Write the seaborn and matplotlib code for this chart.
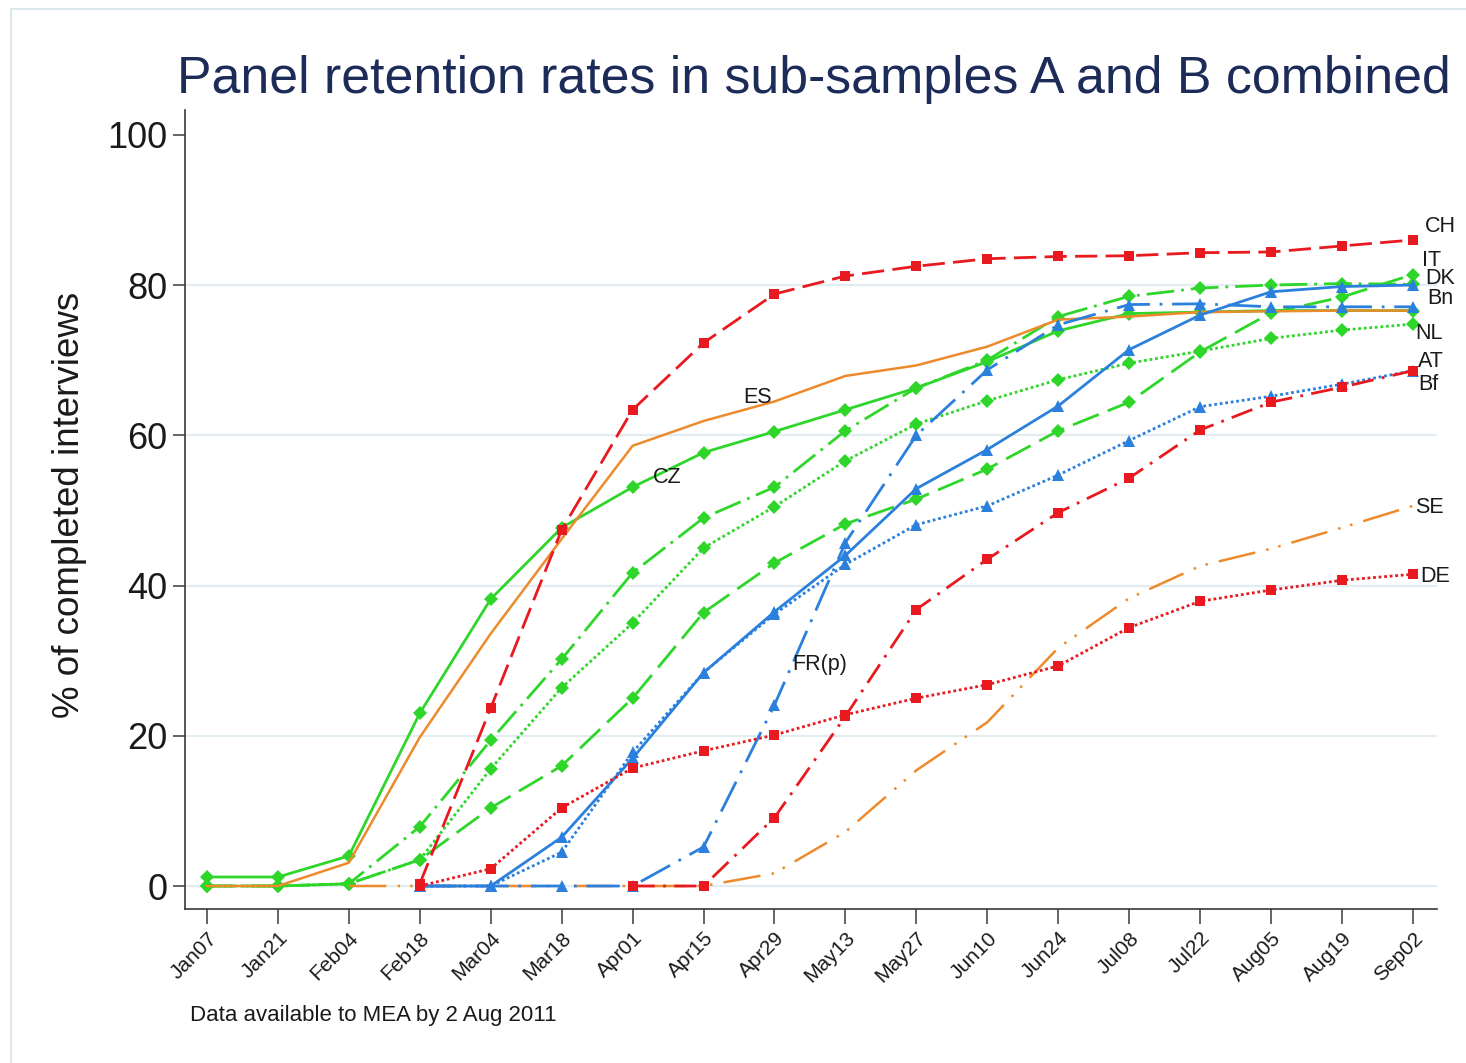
import numpy as np
import pandas as pd
import matplotlib
matplotlib.use("Agg")
import matplotlib.pyplot as plt
from matplotlib.patches import Rectangle
import seaborn as sns

N = np.nan

dates = ["Jan07", "Jan21", "Feb04", "Feb18", "Mar04", "Mar18", "Apr01", "Apr15", "Apr29",
         "May13", "May27", "Jun10", "Jun24", "Jul08", "Jul22", "Aug05", "Aug19", "Sep02"]

# green series (diamonds)
cz = [1.2, 1.2, 4.0, 23.0, 38.2, 47.7, 53.1, 57.7, 60.5, 63.4, 66.3, 69.8, 73.9, 76.2, 76.4, 76.6, 76.6, 76.6]
it = [0, 0, 0.3, 3.5, 10.4, 16.0, 25.0, 36.4, 43.0, 48.2, 51.5, 55.5, 60.6, 64.4, 71.1, 76.3, 78.4, 81.4]
dk = [0, 0, 0.3, 7.9, 19.4, 30.2, 41.7, 49.0, 53.1, 60.6, 66.3, 70.0, 75.8, 78.5, 79.6, 80.0, 80.2, 80.1]
nl = [0, 0, 0.3, 3.5, 15.6, 26.4, 35.0, 45.0, 50.5, 56.6, 61.5, 64.6, 67.4, 69.6, 71.2, 72.9, 74.0, 74.8]
# orange series (no markers)
es = [0, 0, 3.1, 19.8, 33.6, 46.2, 58.6, 61.9, 64.5, 67.9, 69.3, 71.8, 75.4, 75.8, 76.4, 76.5, 76.6, 76.6]
se = [N, N, 0, 0, 0, 0, 0, 0, 1.7, 7.2, 15.4, 21.8, 31.7, 38.3, 42.6, 44.9, 47.7, 50.6]
# blue series (triangles)
bn = [N, N, N, 0, 0, 6.5, 17.0, 28.4, 36.5, 44.0, 52.9, 58.1, 63.9, 71.4, 76.0, 79.1, 79.8, 80.0]
bf = [N, N, N, 0, 0, 4.5, 17.8, 28.4, 36.2, 42.8, 48.1, 50.6, 54.7, 59.3, 63.8, 65.2, 66.8, 68.6]
fr = [N, N, N, 0, 0, 0, 0, 5.2, 24.1, 45.7, 60.0, 68.7, 74.7, 77.4, 77.5, 77.1, 77.1, 77.1]
# red series (squares)
ch = [N, N, N, 0.3, 23.7, 47.4, 63.4, 72.3, 78.8, 81.2, 82.5, 83.5, 83.8, 83.9, 84.3, 84.4, 85.2, 86.0]
at = [N, N, N, N, N, N, 0, 0, 9.1, 22.6, 36.8, 43.5, 49.7, 54.3, 60.7, 64.4, 66.4, 68.6]
de = [N, N, N, 0, 2.3, 10.4, 15.7, 18.0, 20.1, 22.8, 25.0, 26.8, 29.3, 34.4, 37.9, 39.4, 40.7, 41.5]

series_names = ["CZ", "IT", "DK", "NL", "ES", "SE", "Bn", "Bf", "FR(p)", "CH", "AT", "DE"]
series_values = [cz, it, dk, nl, es, se, bn, bf, fr, ch, at, de]

title = "Panel retention rates in sub-samples A and B combined"
ylabel = "% of completed interviews"
note = "Data available to MEA by 2 Aug 2011"

# ---- styles ----
GREEN = "#2ed62a"
ORANGE = "#ec8a2c"
BLUE = "#2a80dc"
RED = "#e8191f"
styles = {
    "CZ": dict(color=GREEN, marker="D", ls="-"),
    "IT": dict(color=GREEN, marker="D", ls=(0, (10, 3.5))),
    "DK": dict(color=GREEN, marker="D", ls=(0, (10, 2.5, 1, 2.5))),
    "NL": dict(color=GREEN, marker="D", ls=(0, (1, 1))),
    "ES": dict(color=ORANGE, marker=None, ls="-"),
    "SE": dict(color=ORANGE, marker=None, ls=(0, (15, 4.5, 1, 4, 1, 4.5))),
    "Bn": dict(color=BLUE, marker="^", ls="-"),
    "Bf": dict(color=BLUE, marker="^", ls=(0, (1, 1))),
    "FR(p)": dict(color=BLUE, marker="^", ls=(0, (12, 3.5, 1, 3.5))),
    "CH": dict(color=RED, marker="s", ls=(0, (8, 3))),
    "AT": dict(color=RED, marker="s", ls=(0, (8, 3, 1, 3))),
    "DE": dict(color=RED, marker="s", ls=(0, (1, 1))),
}
msize = {"D": 7.5, "^": 8, "s": 6.5}
# label: (anchor index, dx pt, dy pt, ha)
label_pos = {
    "CH": (-1, 8.6, 9.4, "left"),
    "IT": (-1, 6.5, 10.2, "left"),
    "DK": (-1, 8.6, 4.2, "left"),
    "Bn": (-1, 10.0, -10.0, "left"),
    "NL": (-1, 1.4, -6.5, "left"),
    "AT": (-1, 3.6, 6.8, "left"),
    "Bf": (-1, 3.6, -9.6, "left"),
    "SE": (-1, 1.4, -1.4, "left"),
    "DE": (-1, 5.0, -1.4, "left"),
    "ES": (8, -2.0, 3.0, "right"),
    "CZ": (6, 14.4, 7.2, "left"),
    "FR(p)": (8, 13.0, 29.0, "left"),
}

sns.set_style("white")
plt.rcParams["font.family"] = ["Liberation Sans", "DejaVu Sans"]

W, H = 1466, 1063
fig = plt.figure(figsize=(W / 100, H / 100), dpi=100)
fig.patch.set_facecolor("white")
ax = fig.add_axes([185 / W, 1 - 909 / H, (1437 - 185) / W, (909 - 110) / H])

rows = []
for name, vals in zip(series_names, series_values):
    for i, v in enumerate(vals):
        rows.append(dict(series=name, pos=i, value=v))
df = pd.DataFrame(rows).dropna()

for name in series_names:
    st = styles[name]
    sub = df[df["series"] == name]
    kw = dict(color=st["color"], linestyle=st["ls"], linewidth=2.0 if st["marker"] else 1.8)
    if st["marker"]:
        kw.update(marker=st["marker"], markersize=msize[st["marker"]], mew=0)
    sns.lineplot(data=sub, x="pos", y="value", ax=ax, sort=False, **kw)

    idx, dx, dy, ha = label_pos[name]
    vals = sub["value"].to_numpy()
    xs = sub["pos"].to_numpy()
    if idx == -1:
        xa, ya = xs[-1], vals[-1]
    else:
        xa = idx
        ya = sub.loc[sub["pos"] == idx, "value"].iloc[0]
    ax.annotate(name, xy=(xa, ya), xytext=(dx, dy), textcoords="offset points",
                ha=ha, va="center", fontsize=15.5, color="#1a1a1a", zorder=10)

ax.set_xlim(-0.31, 17.34)
ax.set_ylim(-3.06, 103.3)
ax.set_xticks(range(len(dates)))
ax.set_xticklabels(dates, rotation=45, ha="right", va="top", rotation_mode="anchor",
                   fontsize=15, color="#1a1a1a")
ax.set_yticks([0, 20, 40, 60, 80, 100])
ax.set_yticklabels(["0", "20", "40", "60", "80", "100"], fontsize=26, color="#1a1a1a")
ax.set_xlabel("")
ax.set_ylabel("")

for yv in [0, 20, 40, 60, 80]:
    ax.axhline(yv, color="#e3ecf0", lw=1.6, zorder=0)

for s in ["top", "right"]:
    ax.spines[s].set_visible(False)
for s in ["left", "bottom"]:
    ax.spines[s].set_color("#3a3a3a")
    ax.spines[s].set_linewidth(1.2)
ax.tick_params(axis="x", direction="out", length=11, width=1.1, color="#3a3a3a", pad=3, bottom=True)
ax.tick_params(axis="y", direction="out", length=8.5, width=1.1, color="#3a3a3a", pad=4, left=True)

fig.text(814 / W, 1 - 93 / H, title, ha="center", va="baseline", fontsize=37.4, color="#1c2b58")
fig.text(70 / W, 1 - 505 / H, ylabel, rotation=90, ha="center", va="center", fontsize=26.5, color="#1a1a1a")
fig.text(190 / W, 1 - 1016 / H, note, ha="left", va="center", fontsize=16, color="#1a1a1a")

fig.patches.append(Rectangle((11 / W, -0.1), 1.5, 1.1 - 9 / H, transform=fig.transFigure,
                             facecolor="none", edgecolor="#d9e7ec", lw=1.4))

fig.savefig("out.png", dpi=100)
